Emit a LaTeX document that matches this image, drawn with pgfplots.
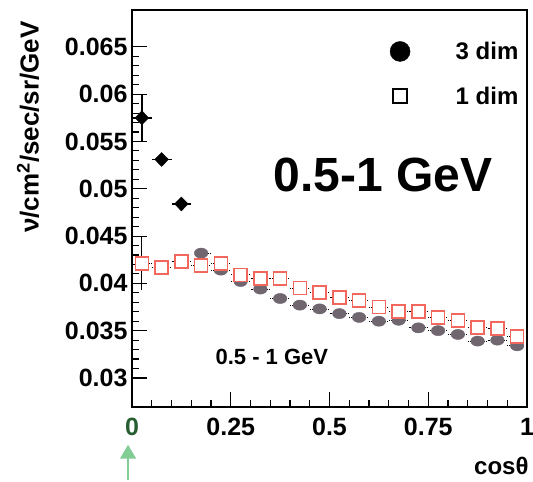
\documentclass[border=0pt]{standalone}
\usepackage{fontspec}
\setmainfont{Liberation Sans}
\usepackage{pgfplots}
\pgfplotsset{compat=1.18}
\usetikzlibrary{arrows.meta}
\definecolor{pgray}{RGB}{112,102,112}
\definecolor{psalmon}{RGB}{242,104,92}
\definecolor{pgreen}{RGB}{130,205,150}
\definecolor{dgreen}{RGB}{40,95,50}
\begin{document}
\begin{tikzpicture}
\useasboundingbox (0,0) rectangle (533pt,482pt);
\begin{axis}[
  at={(132pt,75pt)}, anchor=south west,
  scale only axis, width=395pt, height=397pt,
  xmin=0, xmax=1, ymin=0.02693, ymax=0.0689,
  axis line style={line width=1.6pt},
  xtick={0,0.25,0.5,0.75,1},
  xticklabels={\textcolor{dgreen}{0},0.25,0.5,0.75,1},
  minor x tick num=4,
  ytick={0.03,0.035,0.04,0.045,0.05,0.055,0.06,0.065},
  minor y tick num=4,
  scaled y ticks=false,
  yticklabel style={/pgf/number format/fixed, /pgf/number format/precision=3},
  /pgf/number format/assume math mode=true,
  tick label style={font=\fontsize{25}{27}\selectfont\bfseries},
  xticklabel style={yshift=-8pt},
  yticklabel style={xshift=-1pt},
  tick align=inside, xtick pos=bottom, ytick pos=left,
  major tick length=15pt, minor tick length=7pt,
  tick style={black, line width=1.1pt},
  clip=false,
  ylabel={ν/cm\textsuperscript{2}/sec/sr/GeV},
  ylabel style={at={(axis description cs:-0.263,0.705)}, anchor=center, font=\fontsize{26}{28}\selectfont\bfseries},
  xlabel={cosθ},
  xlabel style={at={(axis description cs:0.935,-0.148)}, anchor=center, font=\fontsize{24}{26}\selectfont\bfseries},
  legend style={draw=none, fill=none, at={(axis description cs:0.632,0.93)}, anchor=north west,
    font=\fontsize{24}{26}\selectfont\bfseries, row sep=22pt},
  legend cell align=left,
  legend image code/.code={\draw[#1] plot coordinates {(0.5cm,0cm)}; \path (0,0) (2.35cm,0);},
]
\addlegendimage{only marks, mark=*, mark size=10pt, black}
\addlegendentry{3 dim}
\addlegendimage{only marks, mark=square, mark size=7pt, black, line width=2pt}
\addlegendentry{1 dim}

% dotted histogram steps
\addplot[forget plot, black, densely dotted, line width=0.8pt, jump mark mid] coordinates {
(0.025,0.0421)(0.075,0.0417)(0.125,0.0423)(0.175,0.0419)(0.225,0.0421)(0.275,0.0409)(0.325,0.0405)(0.375,0.0405)(0.425,0.0395)(0.475,0.0390)(0.525,0.0385)(0.575,0.0382)(0.625,0.0375)(0.675,0.0370)(0.725,0.0370)(0.775,0.0364)(0.825,0.0361)(0.875,0.0353)(0.925,0.0352)(0.975,0.0344)};
\addplot[forget plot, black, densely dotted, line width=0.8pt, jump mark mid] coordinates {
(0.175,0.0432)(0.225,0.0414)(0.275,0.0402)(0.325,0.0394)(0.375,0.0384)(0.425,0.0377)(0.475,0.0373)(0.525,0.0368)(0.575,0.0364)(0.625,0.0360)(0.675,0.0361)(0.725,0.0353)(0.775,0.0350)(0.825,0.0346)(0.875,0.0339)(0.925,0.0340)(0.975,0.0334)};

% 3 dim, gray circles
\addplot[forget plot, only marks, mark=*, mark size=6.8pt, pgray, mark options={yscale=0.75}] coordinates {
(0.175,0.0432)(0.225,0.0414)(0.275,0.0402)(0.325,0.0394)(0.375,0.0384)(0.425,0.0377)(0.475,0.0373)(0.525,0.0368)(0.575,0.0364)(0.625,0.0360)(0.675,0.0361)(0.725,0.0353)(0.775,0.0350)(0.825,0.0346)(0.875,0.0339)(0.925,0.0340)(0.975,0.0334)};

% 1 dim, salmon squares
\addplot[forget plot, only marks, mark=square*, mark size=6.5pt, psalmon, line width=1.7pt, mark options={fill=white},
  error bars/.cd, y dir=both, y explicit, error bar style={black, line width=1.1pt}, error mark=none] coordinates {
(0.025,0.0421) +- (0,0.0028)
(0.075,0.0417) +- (0,0)(0.125,0.0423) +- (0,0)(0.175,0.0419) +- (0,0)(0.225,0.0421) +- (0,0)(0.275,0.0409) +- (0,0)(0.325,0.0405) +- (0,0)(0.375,0.0405) +- (0,0)(0.425,0.0395) +- (0,0)(0.475,0.0390) +- (0,0)(0.525,0.0385) +- (0,0)(0.575,0.0382) +- (0,0)(0.625,0.0375) +- (0,0)(0.675,0.0370) +- (0,0)(0.725,0.0370) +- (0,0)(0.775,0.0364) +- (0,0)(0.825,0.0361) +- (0,0)(0.875,0.0353) +- (0,0)(0.925,0.0352) +- (0,0)(0.975,0.0344) +- (0,0)};

% 3 dim, black points with error bars
\addplot[forget plot, only marks, mark=diamond*, mark size=7pt, black, mark options={xscale=1.3},
  error bars/.cd, x dir=both, x explicit, y dir=both, y explicit, error bar style={black, line width=1.4pt}, error mark=none] coordinates {
(0.025,0.0575) +- (0.025,0.0024)
(0.075,0.0531) +- (0.025,0.0003)
(0.125,0.0484) +- (0.025,0.0003)};

\node[font=\fontsize{48}{52}\selectfont\bfseries] at (axis description cs:0.635,0.584) {0.5-1 GeV};
\node[font=\fontsize{22}{24}\selectfont\bfseries] at (axis description cs:0.354,0.126) {0.5 - 1 GeV};
\draw[pgreen, line width=1.6pt, -{Triangle[length=14pt,width=16pt]}] (axis description cs:-0.01,-0.185) -- (axis description cs:-0.01,-0.095);
\end{axis}
\end{tikzpicture}
\end{document}
